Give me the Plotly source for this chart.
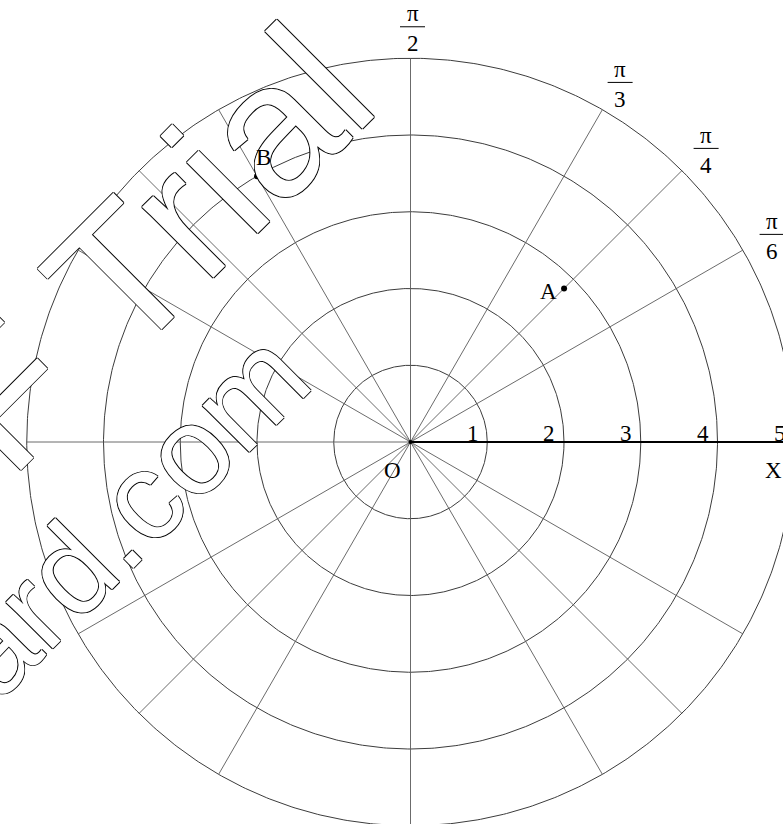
import numpy as np
import plotly.graph_objects as go

# ---------------- data ----------------
radii = [1, 2, 3, 4, 5]
ray_angles_deg = [30, 45, 60, 90, 120, 135, 150, 180, 210, 225, 240, 270, 300, 315, 330]
radius_labels = ["1", "2", "3", "4", "5"]
angle_label_deg = [90, 60, 45, 30]
angle_label_den = ["2", "3", "4", "6"]
point_names = ["A", "B"]
point_r = [2.83, 4.0]
point_theta_deg = [45, 120]

# ---------------- layout constants ----------------
W, H = 783, 824
UNIT = 76.75           # pixels per radial unit
CX, CY = 410.5, 442.0  # pole position in pixels
XR = [-CX / UNIT, (W - CX) / UNIT]
YR = [-(H - CY) / UNIT, CY / UNIT]
R_MAX = max(radii)
GRID = "#3c3c3c"
RAY = "#5a5a5a"
SERIF = "Liberation Serif, Times New Roman, serif"

fig = go.Figure()

# concentric circles
t = np.linspace(0, 2 * np.pi, 721)
for r in radii:
    fig.add_trace(go.Scatter(x=r * np.cos(t), y=r * np.sin(t), mode="lines",
                             line=dict(color=GRID, width=1), hoverinfo="skip"))

# rays
rx, ry = [], []
for a in ray_angles_deg:
    ar = np.deg2rad(a)
    rx += [0, R_MAX * np.cos(ar), None]
    ry += [0, R_MAX * np.sin(ar), None]
fig.add_trace(go.Scatter(x=rx, y=ry, mode="lines", line=dict(color=RAY, width=0.9),
                         hoverinfo="skip"))

# polar axis (X)
fig.add_trace(go.Scatter(x=[0, R_MAX * 1.2], y=[0, 0], mode="lines",
                         line=dict(color="black", width=2), hoverinfo="skip"))

# pole
fig.add_trace(go.Scatter(x=[0], y=[0], mode="markers",
                         marker=dict(color="black", size=4), hoverinfo="skip"))

# points A, B
px = [r * np.cos(np.deg2rad(a)) for r, a in zip(point_r, point_theta_deg)]
py = [r * np.sin(np.deg2rad(a)) for r, a in zip(point_r, point_theta_deg)]
fig.add_trace(go.Scatter(x=px, y=py, mode="markers",
                         marker=dict(color="black", size=6), hoverinfo="skip"))

annotations = []
shapes = []

# watermark (outlined text)
OUTLINE = "1px 0px 0px #000, -1px 0px 0px #000, 0px 1px 0px #000, 0px -1px 0px #000"
WM_FONT = "Liberation Sans, Arial, sans-serif"
def wm(text, cx_px, cy_px, size):
    annotations.append(dict(text=text, xref="paper", yref="paper",
                            x=cx_px / W, y=1 - cy_px / H, showarrow=False,
                            xanchor="center", yanchor="middle", textangle=-45,
                            font=dict(family=WM_FONT, size=size, color="white",
                                      shadow=OUTLINE)))
wm("PDF Trial", 56.9, 341.5, 190)
wm("www.pdfwizard.com", -104.8, 744.1, 125)

# radius labels
for r, lab in zip(radii, radius_labels):
    annotations.append(dict(text=lab, x=r - 0.19, y=0.117, xref="x", yref="y",
                            showarrow=False, xanchor="center", yanchor="middle",
                            font=dict(family=SERIF, size=23, color="black")))

# O and X labels
annotations.append(dict(text="O", x=0, y=0, xref="x", yref="y", showarrow=False,
                        xshift=-18, yshift=-28, font=dict(family=SERIF, size=23, color="black")))
annotations.append(dict(text="X", x=XR[1], y=0, xref="x", yref="y", showarrow=False,
                        xshift=-10, yshift=-28, font=dict(family=SERIF, size=23, color="black")))

# angle labels as fractions
R_LAB = 5.41
for a, den in zip(angle_label_deg, angle_label_den):
    ar = np.deg2rad(a)
    lx, ly = R_LAB * np.cos(ar), R_LAB * np.sin(ar)
    annotations.append(dict(text="π", x=lx, y=ly, xref="x", yref="y", showarrow=False,
                            xshift=2, yshift=13, font=dict(family=SERIF, size=23, color="black")))
    annotations.append(dict(text=den, x=lx, y=ly, xref="x", yref="y", showarrow=False,
                            xshift=2, yshift=-17, font=dict(family=SERIF, size=23, color="black")))
    shapes.append(dict(type="line", xref="x", yref="y", xsizemode="pixel", ysizemode="pixel",
                       xanchor=lx, yanchor=ly, x0=-10.5, x1=14.5, y0=0, y1=0,
                       line=dict(color="black", width=1)))

# point labels
offs = {"A": (-16, -3), "B": (6, 19)}
for n, x, y in zip(point_names, px, py):
    annotations.append(dict(text=n, x=x, y=y, xref="x", yref="y", showarrow=False,
                            xshift=offs[n][0], yshift=offs[n][1],
                            font=dict(family=SERIF, size=23, color="black")))

fig.update_layout(
    width=W, height=H, margin=dict(l=0, r=0, t=0, b=0),
    paper_bgcolor="white", plot_bgcolor="white", showlegend=False,
    xaxis=dict(range=XR, visible=False, fixedrange=True),
    yaxis=dict(range=YR, visible=False, fixedrange=True),
    annotations=annotations, shapes=shapes,
)
fig.write_html("out.html", config={"displayModeBar": False},
               post_script="document.body.style.margin='0px';")
